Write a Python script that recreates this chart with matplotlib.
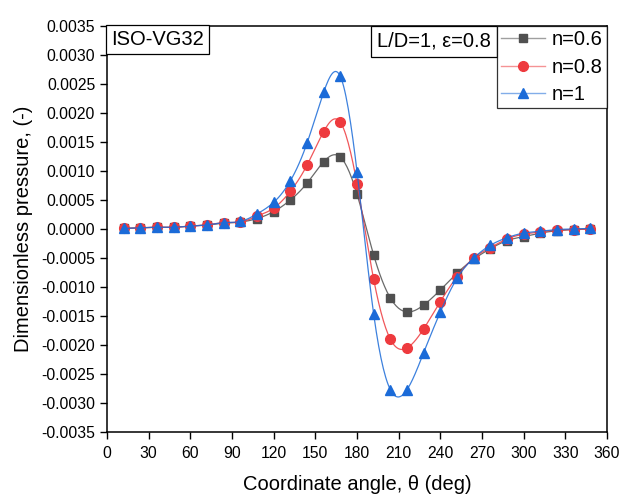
import matplotlib
matplotlib.use('Agg')
import matplotlib.pyplot as plt
from matplotlib.lines import Line2D
import numpy as np

plt.rcParams['font.family'] = ['Liberation Sans', 'DejaVu Sans']

# 角度 (deg)
theta = [12, 24, 36, 48, 60, 72, 84, 96, 108, 120, 132, 144, 156, 168, 180,
         192, 204, 216, 228, 240, 252, 264, 276, 288, 300, 312, 324, 336, 348]

p_n06 = [0.00001, 0.00002, 0.00003, 0.00003, 0.00005, 0.00007, 0.00010, 0.00012,
         0.00018, 0.00030, 0.00050, 0.00079, 0.00116, 0.00124, 0.00060,
         -0.00045, -0.00119, -0.00143, -0.00131, -0.00105, -0.00076, -0.00052,
         -0.00034, -0.00020, -0.00013, -0.00007, -0.00003, -0.00001, 0.00000]
p_n08 = [0.00001, 0.00002, 0.00003, 0.00003, 0.00005, 0.00007, 0.00011, 0.00012,
         0.00022, 0.00036, 0.00065, 0.00110, 0.00168, 0.00184, 0.00078,
         -0.00087, -0.00190, -0.00205, -0.00172, -0.00125, -0.00082, -0.00050,
         -0.00032, -0.00017, -0.00009, -0.00005, -0.00002, -0.00001, 0.00000]
p_n1 = [0.00001, 0.00002, 0.00003, 0.00003, 0.00005, 0.00007, 0.00011, 0.00013,
        0.00026, 0.00046, 0.00083, 0.00148, 0.00236, 0.00263, 0.00099,
        -0.00147, -0.00277, -0.00277, -0.00213, -0.00143, -0.00085, -0.00050,
        -0.00028, -0.00015, -0.00007, -0.00004, -0.00001, 0.00000, 0.00001]

labels = ['n=0.6', 'n=0.8', 'n=1']
colors = ['#505050', '#ee3a3e', '#1b6bd8']
markers = ['s', 'o', '^']
msizes = [6, 7, 7.5]


def spline(x, y, n=400):
    """自然三次样条, 用于画平滑曲线"""
    x = np.asarray(x, float)
    y = np.asarray(y, float)
    k = len(x)
    h = np.diff(x)
    A = np.zeros((k, k))
    b = np.zeros(k)
    A[0, 0] = A[-1, -1] = 1
    for i in range(1, k - 1):
        A[i, i - 1] = h[i - 1]
        A[i, i] = 2 * (h[i - 1] + h[i])
        A[i, i + 1] = h[i]
        b[i] = 6 * ((y[i + 1] - y[i]) / h[i] - (y[i] - y[i - 1]) / h[i - 1])
    m = np.linalg.solve(A, b)
    xs = np.linspace(x[0], x[-1], n)
    idx = np.clip(np.searchsorted(x, xs) - 1, 0, k - 2)
    x0, x1 = x[idx], x[idx + 1]
    hh = x1 - x0
    t0, t1 = x1 - xs, xs - x0
    ys = (m[idx] * t0 ** 3 + m[idx + 1] * t1 ** 3) / (6 * hh) \
        + (y[idx] / hh - m[idx] * hh / 6) * t0 + (y[idx + 1] / hh - m[idx + 1] * hh / 6) * t1
    return xs, ys


fig = plt.figure(figsize=(6.22, 4.96), dpi=100)
ax = fig.add_axes([0.172, 0.129, 0.804, 0.8186])

handles = []
for p, lab, c, mk, ms in zip([p_n06, p_n08, p_n1], labels, colors, markers, msizes):
    xs, ys = spline(theta, p)
    ax.plot(xs, ys, color=c, lw=0.9, alpha=0.85)
    ax.plot(theta, p, linestyle='none', marker=mk, ms=ms, color=c)
    # 图例: 线颜色浅一些, 标记实心
    handles.append(Line2D([], [], color=c, lw=1.0, alpha=0.55))
    handles.append(Line2D([], [], linestyle='none', marker=mk, ms=ms, color=c))

ax.set_xlim(0, 360)
ax.set_ylim(-0.0035, 0.0035)
ax.set_xticks(np.arange(0, 361, 30))
ax.set_yticks(np.arange(-0.0035, 0.00351, 0.0005))
ax.yaxis.set_major_formatter(plt.FuncFormatter(lambda v, _: f'{v:.4f}' if abs(v) > 1e-9 else '0.0000'))
ax.tick_params(direction='out', length=5, width=1, labelsize=11.3, top=False, right=False)
ax.tick_params(axis='x', pad=5)
for s in ax.spines.values():
    s.set_linewidth(1.1)

ax.set_xlabel('Coordinate angle, θ (deg)', fontsize=14.5, labelpad=10.5)
ax.set_ylabel('Dimensionless pressure, (-)', fontsize=14.5, labelpad=6)

pairs = [(handles[2 * i], handles[2 * i + 1]) for i in range(3)]
leg = ax.legend(pairs, labels, loc='upper right', bbox_to_anchor=(1.0, 1.0), borderaxespad=0,
                fontsize=14.5, frameon=True, fancybox=False, handlelength=2.2,
                handletextpad=0.35, labelspacing=0.43, borderpad=0.2)
leg.get_frame().set_edgecolor('black')
leg.get_frame().set_linewidth(0.9)

box = dict(boxstyle='square,pad=0.25', facecolor='white', edgecolor='black', linewidth=0.9)
ax.text(0.009, 0.989, 'ISO-VG32', transform=ax.transAxes, ha='left', va='top',
        fontsize=14.5, bbox=box)
box2 = dict(boxstyle='square,pad=0.3', facecolor='white', edgecolor='black', linewidth=0.9)
ax.text(0.768, 0.986, 'L/D=1, ε=0.8', transform=ax.transAxes, ha='right', va='top',
        fontsize=14.5, bbox=box2)

fig.savefig('out.png', dpi=100)
